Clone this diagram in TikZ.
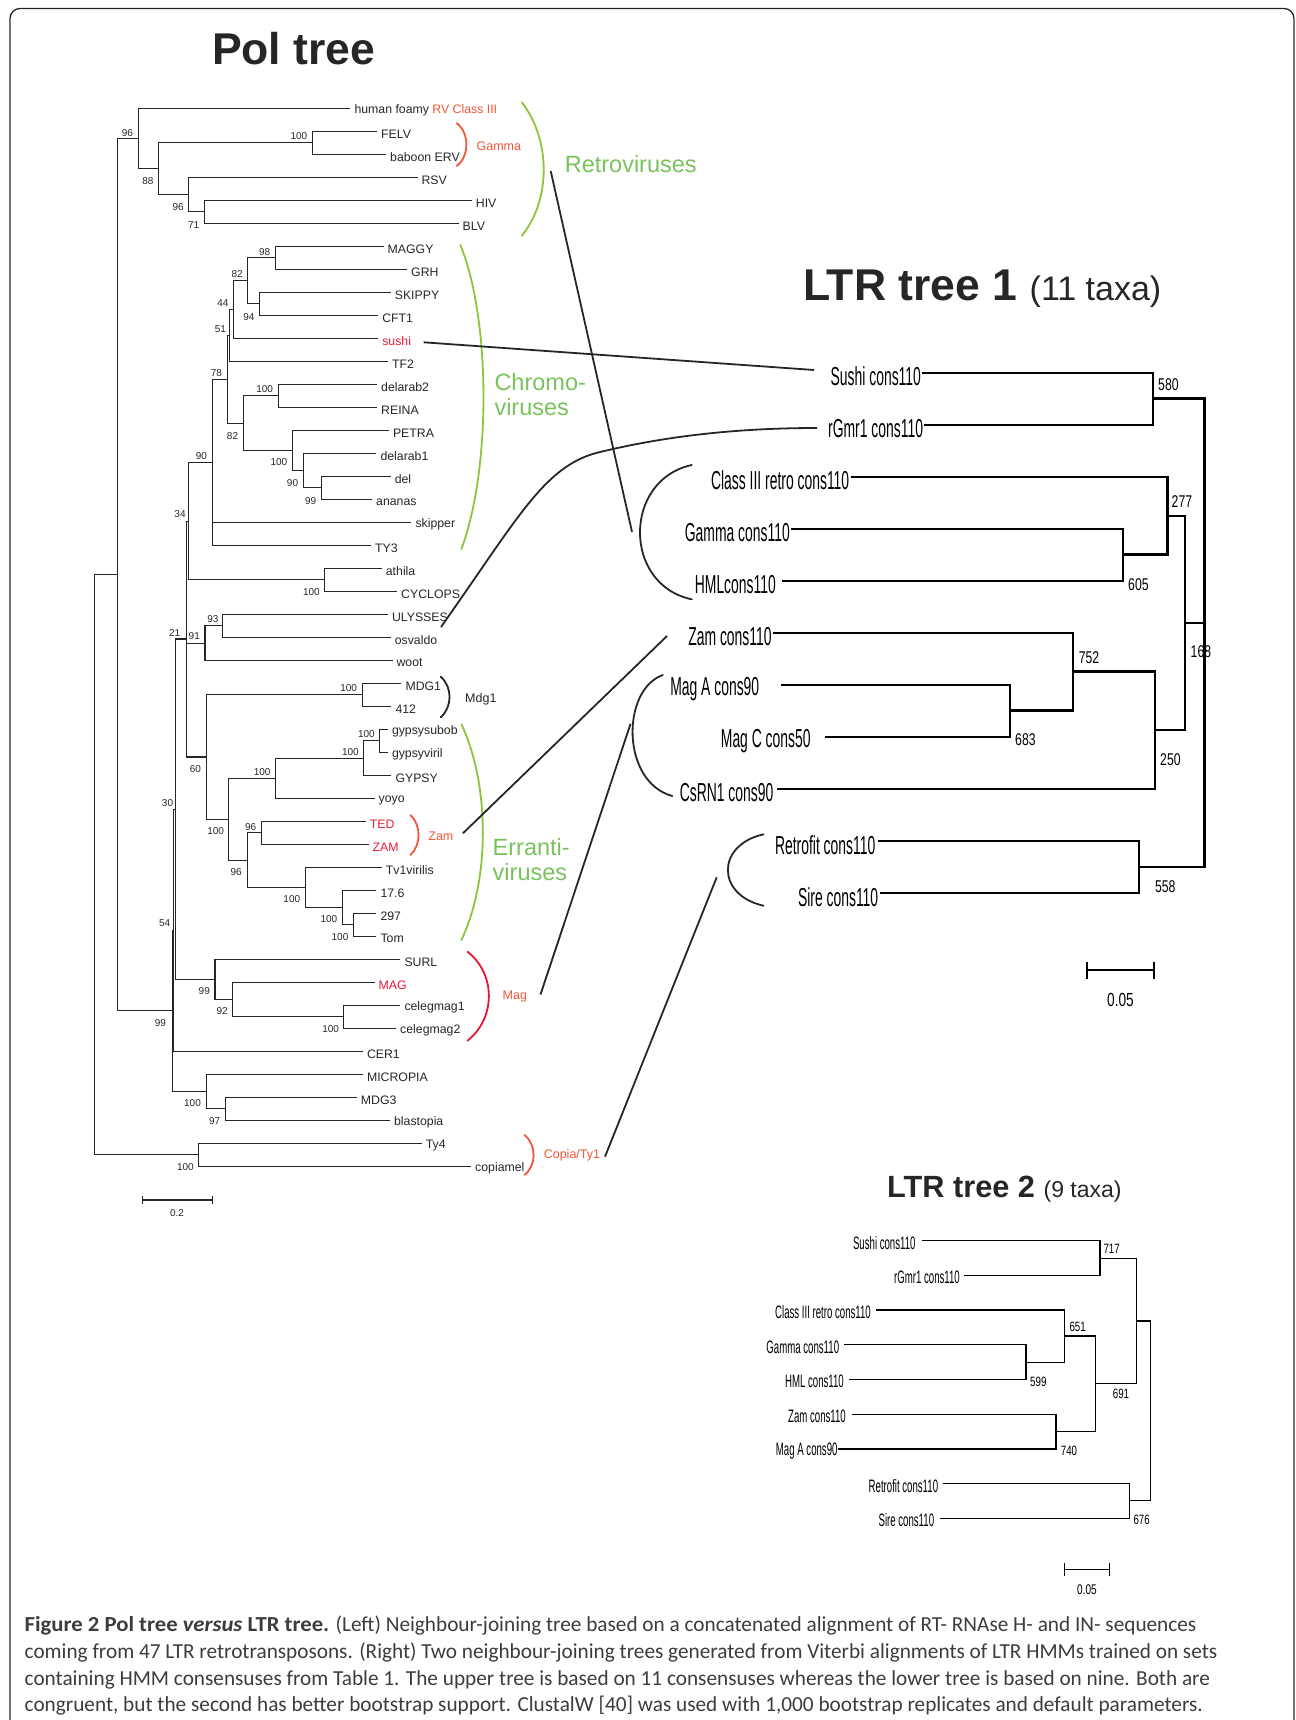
\documentclass[tikz,border=0pt]{standalone}
\usepackage{fontspec}
\setmainfont{Liberation Sans}
\newfontfamily\narrowfont[FakeStretch=0.535]{Liberation Sans}
\newfontfamily\narrownum[FakeStretch=0.72]{Liberation Sans}
\newfontfamily\captionfont[FakeStretch=0.993, BoldFeatures={FakeStretch=1.06}, BoldItalicFeatures={FakeStretch=1.06}]{Carlito}
\usepackage{xcolor}
\usepackage{tikz}
\usetikzlibrary{positioning}

\definecolor{inkgray}{RGB}{38,38,38}
\definecolor{capgray}{RGB}{60,60,60}
\definecolor{grpred}{RGB}{240,86,56}
\definecolor{leafred}{RGB}{232,28,50}
\definecolor{magred}{RGB}{228,24,52}
\definecolor{cladegreen}{RGB}{122,194,92}
\definecolor{arcgreen}{RGB}{142,196,58}

\newcommand{\fsz}[1]{\fontsize{#1}{#1}\selectfont}
\newcommand{\clade}[3]{\draw[branch] (#2) -| (#1) |- (#3);}

\begin{document}
\begin{tikzpicture}[
        x=1pt, y=-1pt,
        branch/.style={draw=inkgray, line width=1.1pt},
        taxon/.style={anchor=west, inner sep=0pt, xshift=3.9pt, yshift=-2.5pt, font=\fsz{12.3}, text=inkgray},
        boot/.style={inner sep=0pt, font=\fsz{10}, text=inkgray},
        group/.style={anchor=west, inner sep=0pt, font=\fsz{12.5}},
        clan/.style={anchor=west, inner sep=0pt, font=\fsz{23.5}, text=cladegreen},
        brace/.style={line width=1.8pt, line cap=round},
        link/.style={draw=inkgray, line width=1.8pt},
        title/.style={anchor=base west, inner sep=0pt, font=\bfseries\fsz{44.5}, text=inkgray},
        ltrtaxon/.style={anchor=east, inner sep=0pt, yshift=-4pt, font=\narrowfont\fsz{26}},
        ltrboot/.style={anchor=west, inner sep=0pt, font=\narrownum\fsz{17}},
        smalltaxon/.style={anchor=east, inner sep=0pt, yshift=-2pt, font=\narrowfont\fsz{18}},
        smallboot/.style={anchor=west, inner sep=0pt, font=\narrownum\fsz{13.5}},
        caption/.style={anchor=base west, inner sep=0pt, font=\captionfont\fsz{21.4}, text=capgray}
    ]
    \useasboundingbox (0,0) rectangle (1295,1720);
    \clip (0,0) rectangle (1295,1720);
    \draw[draw=inkgray, line width=1.3pt, rounded corners=10pt] (10,1740) -- (10,8.5) -- (1294,8.5) -- (1294,1740);

    % titles
    \node[title] (poltitle) at (211.8,64.3) {Pol tree};
    \node[title] (ltr1title) at (802.8,300) {LTR tree 1 {\mdseries\fsz{34}(11 taxa)}};
    \node[title, font=\bfseries\fsz{30.7}] (ltr2title) at (887,1197.3) {LTR tree 2 {\mdseries\fsz{23}(9 taxa)}};

    % Pol tree: leaves
    \foreach \i/\xend/\txt in {1/350.4/{human foamy \textcolor{grpred}{RV Class III}}, 2/377.1/FELV, 3/386.1/baboon ERV,
        4/417.5/RSV, 5/471.8/HIV, 6/458.6/BLV, 7/383.6/MAGGY, 8/407.1/GRH, 9/390.7/SKIPPY, 10/378.2/CFT1,
        11/378.2/{\textcolor{leafred}{sushi}}, 12/387.9/TF2, 13/377.1/delarab2, 14/377.1/REINA, 15/388.9/PETRA,
        16/376.4/delarab1, 17/390.7/del, 18/372.1/ananas, 19/411.4/skipper, 20/371.1/TY3, 21/381.8/athila,
        22/397.1/CYCLOPS, 23/387.9/ULYSSES, 24/390.7/osvaldo, 25/392.5/woot, 26/401.4/MDG1, 27/391.4/412,
        28/387.9/gypsysubob, 29/387.9/gypsyviril, 30/391.4/GYPSY, 31/374.6/yoyo, 32/365.7/{\textcolor{leafred}{TED}},
        33/368.6/{\textcolor{leafred}{ZAM}}, 34/381.8/Tv1virilis, 35/376.4/17.6, 36/376.4/297, 37/376.4/Tom,
        38/400.4/SURL, 39/374.6/{\textcolor{magred}{MAG}}, 40/400.4/celegmag1, 41/396.1/celegmag2, 42/362.9/CER1,
        43/362.9/MICROPIA, 44/356.8/MDG3, 45/390/blastopia, 46/421.8/Ty4, 47/471.1/copiamel} {
        \coordinate (L\i) at ({\xend},{85.3+23*\i});
        \node[taxon] (T\i) at (L\i) {\txt};
    }

    % Pol tree: inner nodes
    \coordinate (pFB) at (312.9,142.8);   \coordinate (pHB) at (204.3,211.8);
    \coordinate (pRHB) at (188.9,194.55); \coordinate (p88) at (158.6,168.7);
    \coordinate (p96) at (138.2,138.5);   \coordinate (pMG) at (275.7,257.8);
    \coordinate (pSC) at (259.6,303.8);   \coordinate (p82a) at (247.9,280.8);
    \coordinate (p44) at (233.6,309.55);  \coordinate (p51) at (229.3,335.4);
    \coordinate (pDR) at (278.2,395.8);   \coordinate (p99) at (321.8,487.8);
    \coordinate (p90a) at (303.2,470.55); \coordinate (p100b) at (292.5,450.4);
    \coordinate (p82b) at (243.6,423.1);  \coordinate (p78) at (227.5,379.3);
    \coordinate (p90b) at (212.1,462.3);  \coordinate (pAC) at (324.6,579.8);
    \coordinate (p34) at (188.9,521.05);  \coordinate (p93) at (222.9,625.8);
    \coordinate (p91) at (205,643.05);    \coordinate (pMD) at (362.1,694.8);
    \coordinate (pGS) at (379.3,740.8);   \coordinate (pGG) at (363.2,758.05);
    \coordinate (pGY) at (275.7,778.2);   \coordinate (pTZ) at (261.4,832.8);
    \coordinate (pPT) at (353.2,924.8);   \coordinate (p176) at (342.5,907.55);
    \coordinate (pTv) at (305.7,887.4);   \coordinate (p96b) at (247.9,860.1);
    \coordinate (pBig) at (228.2,819.15); \coordinate (p60) at (206.1,756.98);
    \coordinate (p21) at (186.4,639.0);   \coordinate (pCel) at (343.6,1016.8);
    \coordinate (p92) at (232.9,999.55);  \coordinate (p99m) at (215,979.4);
    \coordinate (p30) at (175.7,809.2);   \coordinate (p54) at (173.6,930.25);
    \coordinate (pMB) at (225.7,1108.8);  \coordinate (pMic) at (206.1,1091.55);
    \coordinate (p99r) at (172.1,1010.9); \coordinate (pIn) at (117.5,574.7);
    \coordinate (pCop) at (198.6,1154.8); \coordinate (pRoot) at (94.3,864.75);

    \clade{pFB}{L2}{L3}     \clade{pHB}{L5}{L6}     \clade{pRHB}{L4}{pHB}
    \clade{p88}{pFB}{pRHB}  \clade{p96}{L1}{p88}    \clade{pMG}{L7}{L8}
    \clade{pSC}{L9}{L10}    \clade{p82a}{pMG}{pSC}  \clade{p44}{p82a}{L11}
    \clade{p51}{p44}{L12}   \clade{pDR}{L13}{L14}   \clade{p99}{L17}{L18}
    \clade{p90a}{L16}{p99}  \clade{p100b}{L15}{p90a} \clade{p82b}{pDR}{p100b}
    \clade{p78}{p51}{p82b}  \clade{p90b}{p78}{L20}  \clade{pAC}{L21}{L22}
    \clade{p34}{p90b}{pAC}  \clade{p93}{L23}{L24}   \clade{p91}{p93}{L25}
    \clade{pMD}{L26}{L27}   \clade{pGS}{L28}{L29}   \clade{pGG}{pGS}{L30}
    \clade{pGY}{pGG}{L31}   \clade{pTZ}{L32}{L33}   \clade{pPT}{L36}{L37}
    \clade{p176}{L35}{pPT}  \clade{pTv}{L34}{p176}  \clade{p96b}{pTZ}{pTv}
    \clade{pBig}{pGY}{p96b} \clade{p60}{pMD}{pBig}  \clade{p21}{p34}{p60}
    \clade{pCel}{L40}{L41}  \clade{p92}{L39}{pCel}  \clade{p99m}{L38}{p92}
    \clade{p30}{p21}{p99m}  \clade{p54}{p30}{L42}   \clade{pMB}{L44}{L45}
    \clade{pMic}{L43}{pMB}  \clade{p99r}{p54}{pMic} \clade{pIn}{p96}{p99r}
    \clade{pCop}{L46}{L47}  \clade{pRoot}{pIn}{pCop}
    \draw[branch] (p90b |- L19) -- (L19);
    \draw[branch] (p21 |- p91) -- (p91);

    % Pol tree: bootstrap values
    \foreach \bx/\by/\bv [count=\n] in {127.5/132.7/96, 298.9/136/100, 147.9/180.7/88, 178.2/207.3/96,
        193.6/225/71, 264.6/251.7/98, 237.1/274.3/82, 222.9/303.3/44, 248.9/316.7/94, 220.4/329.3/51,
        216.4/372.7/78, 264.6/389.3/100, 232.5/436/82, 201.4/456/90, 278.9/462.3/100, 292.5/483.3/90,
        310.7/500.7/99, 180/514.3/34, 311.4/592.3/100, 212.9/619.3/93, 174.6/632.7/21, 194.3/636/91,
        348.6/688.3/100, 366.4/734.3/100, 350.4/751.7/100, 195.4/769.3/60, 262.1/771.7/100, 167.5/802.7/30,
        250.7/826.7/96, 215.7/831/100, 236.1/872.3/96, 291.8/899.3/100, 328.9/919.3/100, 164.6/923.3/54,
        340/937.3/100, 204.3/991/99, 222.1/1011/92, 160.4/1023.3/99, 330.7/1029.3/100, 192.5/1103.3/100,
        214.6/1121/97, 185.4/1167.3/100}
        \node[boot] (bs\n) at (\bx,\by) {\bv};

    % Pol tree: scale
    \draw[branch] (142.5,1196) -- (142.5,1204) (142.5,1200) -- (212.1,1200) (212.1,1196) -- (212.1,1204);
    \node[boot] (polscale) at (177.1,1213.3) {0.2};

    % Pol tree: groups
    \draw[brace, draw=arcgreen] (521.8,102.3) .. controls (551,140) and (551,200) .. (521.8,235.7);
    \node[clan] (retro) at (564.6,164) {Retroviruses};
    \draw[brace, draw=grpred] (456.8,123.3) .. controls (469.6,133) and (469.6,156) .. (456.8,166);
    \node[group, text=grpred] (gamma) at (476.4,145.7) {Gamma};
    \draw[brace, draw=arcgreen] (460.4,245) .. controls (491,320) and (491,470) .. (461.4,549);
    \node[clan] (chromoA) at (494.3,381.7) {Chromo-};
    \node[clan] (chromoB) at (494.3,407.3) {viruses};
    \draw[brace, draw=inkgray] (440.7,676.7) .. controls (452.5,687) and (452.5,707) .. (440.7,717.3);
    \node[group, text=inkgray] (mdg) at (465,699) {Mdg1};
    \draw[brace, draw=arcgreen] (461.4,724.3) .. controls (490,785) and (490,880) .. (461.4,940);
    \node[clan] (errantiA) at (492.5,846.7) {Erranti-};
    \node[clan] (errantiB) at (492.5,872.3) {viruses};
    \draw[brace, draw=grpred] (410.4,815) .. controls (421.3,825) and (421.3,845) .. (410.4,855);
    \node[group, text=grpred] (zam) at (428.2,836.7) {Zam};
    \draw[brace, draw=magred] (467.5,951.7) .. controls (496,974) and (496,1018) .. (467.5,1040.7);
    \node[group, text=grpred] (mag) at (502.5,996) {Mag};
    \draw[brace, draw=grpred] (524.6,1135) .. controls (536.6,1145) and (536.6,1165) .. (524.6,1175);
    \node[group, text=grpred] (copia) at (543.6,1155.7) {Copia/Ty1};

    % LTR tree 1
    \begin{scope}[branch/.style={draw=black, line width=2.4pt}]
    \foreach \k/\xs/\gap/\txt in {0/921.9/0.8/Sushi cons110, 1/924/0.8/rGmr1 cons110, 2/850.6/1.2/Class III retro cons110,
        3/791.3/1.3/Gamma cons110, 4/782.2/6.2/HMLcons110, 5/772.7/0.9/Zam cons110, 6/781/21.6/Mag A cons90,
        7/824.5/13.7/Mag C cons50, 8/776.8/3.3/CsRN1 cons90, 9/878.4/2.9/Retrofit cons110, 10/879.6/1.2/Sire cons110} {
        \coordinate (A\k) at ({\xs},{372.7+52*\k});
        \node[ltrtaxon, xshift=-\gap] (AT\k) at (A\k) {\txt};
    }
    \coordinate (a580) at (1153.2,398.35); \coordinate (a605) at (1123,554.65);
    \coordinate (a277) at (1167.3,515.7);  \coordinate (a683) at (1010.2,710.5);
    \coordinate (a752) at (1073.2,671.6);  \coordinate (a250) at (1154.9,729.95);
    \coordinate (a168) at (1185.2,622.8);  \coordinate (a558) at (1138.7,866.85);
    \coordinate (aRoot) at (1204.6,632.6);
    \clade{a580}{A0}{A1}   \clade{a605}{A3}{A4}    \clade{a277}{A2}{a605}
    \clade{a683}{A6}{A7}   \clade{a752}{A5}{a683}  \clade{a250}{a752}{A8}
    \clade{a168}{a277}{a250} \clade{a558}{A9}{A10} \clade{aRoot}{a580}{a558}
    \draw[branch] (a168) -- (aRoot |- a168);
    \foreach \bx/\by/\bv [count=\n] in {1158/385/580, 1128/584.3/605, 1171.5/501.7/277, 1190.5/651.7/168,
        1078.6/657.3/752, 1015/740/683, 1160/760/250, 1154.9/886.7/558}
        \node[ltrboot] (ab\n) at (\bx,\by) {\bv};
    \draw[branch] (1086.9,961.7) -- (1086.9,979.3) (1086.9,970) -- (1154.1,970) (1154.1,961.7) -- (1154.1,979.3);
    \node[ltrboot, anchor=center, font=\narrownum\fsz{19}] (ascale) at (1120.5,1000) {0.05};
    \end{scope}

    % LTR tree 1: brackets
    \draw[brace, draw=inkgray] (691.8,465) .. controls (622.7,480) and (622.7,585) .. (691.8,599.3);
    \draw[brace, draw=inkgray] (662.8,675) .. controls (621,690) and (621,782) .. (672.3,796);
    \draw[brace, draw=inkgray] (763.5,834.3) .. controls (716,845) and (716,895) .. (763.5,905.7);

    % LTR tree 2
    \begin{scope}[branch/.style={draw=black, line width=1.3pt}]
    \foreach \k/\xs/\gap/\txt in {0/922.3/6.6/Sushi cons110, 1/964/4/rGmr1 cons110, 2/876/5/Class III retro cons110,
        3/844/4.7/Gamma cons110, 4/849.3/5.3/HML cons110, 5/852.3/6.3/Zam cons110, 6/838.3/0.6/Mag A cons90,
        7/943.3/5/Retrofit cons110, 8/940/5.7/Sire cons110} {
        \coordinate (B\k) at ({\xs},{1240.7+34.7*\k});
        \node[smalltaxon, xshift=-\gap] (BT\k) at (B\k) {\txt};
    }
    \coordinate (b717) at (1100,1258.2);   \coordinate (b599) at (1026,1362.15);
    \coordinate (b651) at (1064.3,1336.1); \coordinate (b740) at (1056,1431.35);
    \coordinate (b691) at (1095.7,1383.7); \coordinate (bMid) at (1136.7,1320.95);
    \coordinate (b676) at (1129.3,1500.8); \coordinate (bRoot) at (1150.7,1410.9);
    \clade{b717}{B0}{B1}   \clade{b599}{B3}{B4}    \clade{b651}{B2}{b599}
    \clade{b740}{B5}{B6}   \clade{b691}{b651}{b740} \clade{bMid}{b717}{b691}
    \clade{b676}{B7}{B8}   \clade{bRoot}{bMid}{b676}
    \foreach \bx/\by/\bv [count=\n] in {1103.3/1249/717, 1069.3/1326.7/651, 1030/1381.7/599,
        1112.7/1394/691, 1060.7/1451/740, 1133.3/1520/676}
        \node[smallboot] (bb\n) at (\bx,\by) {\bv};
    \draw[branch] (1064.3,1563.3) -- (1064.3,1576) (1064.3,1569.3) -- (1109.3,1569.3) (1109.3,1563.3) -- (1109.3,1576);
    \node[smallboot, anchor=center, font=\narrownum\fsz{14}] (bscale) at (1087,1590) {0.05};
    \end{scope}

    % links between the trees
    \coordinate (cSushiA) at (423.6,342.3); \coordinate (cSushiB) at (814,370);
    \coordinate (cRetroA) at (550.7,171);   \coordinate (cRetroB) at (632,531.9);
    \coordinate (cOsvA) at (441,627);       \coordinate (cOsvM) at (600,452);
    \coordinate (cOsvB) at (817,428);
    \coordinate (cZamA) at (462.9,833.3);   \coordinate (cZamB) at (667,636);
    \coordinate (cMagA) at (540.5,994.5);   \coordinate (cMagB) at (630.6,723.7);
    \coordinate (cCopA) at (605,1156.7);    \coordinate (cCopB) at (716.7,877.3);
    \draw[link] (cSushiA) -- (cSushiB);
    \draw[link] (cRetroA) -- (cRetroB);
    \draw[link] (cOsvA) .. controls (520,515) and (545,465) .. (cOsvM) .. controls (650,440) and (720,428) .. (cOsvB);
    \draw[link] (cZamA) -- (cZamB);
    \draw[link] (cMagA) -- (cMagB);
    \draw[link] (cCopA) -- (cCopB);

    % caption
    \node[caption] (cap1) at (24.5,1631.6) {\textbf{Figure 2 Pol tree \textit{versus} LTR tree.} (Left) Neighbour-joining tree based on a concatenated alignment of RT- RNAse H- and IN- sequences};
    \node[caption] (cap2) at (24.5,1658.3) {coming from 47 LTR retrotransposons. (Right) Two neighbour-joining trees generated from Viterbi alignments of LTR HMMs trained on sets};
    \node[caption] (cap3) at (24.5,1685) {containing HMM consensuses from Table 1. The upper tree is based on 11 consensuses whereas the lower tree is based on nine. Both are};
    \node[caption] (cap4) at (24.5,1711.7) {congruent, but the second has better bootstrap support. ClustalW [40] was used with 1,000 bootstrap replicates and default parameters.};
\end{tikzpicture}
\end{document}
